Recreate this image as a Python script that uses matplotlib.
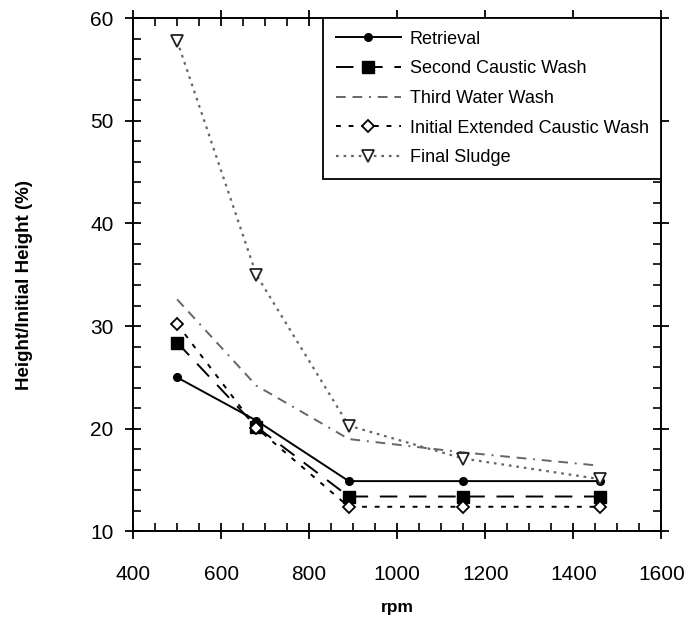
import matplotlib
matplotlib.use('Agg')
import matplotlib.pyplot as plt
from matplotlib.ticker import MultipleLocator

plt.rcParams['font.family'] = ['Liberation Sans', 'DejaVu Sans']

# rpm values and height ratios (%)
rpm = [500, 680, 890, 1150, 1460]
retrieval = [25.0, 20.8, 14.9, 14.9, 14.9]
second_caustic = [28.4, 20.2, 13.4, 13.4, 13.4]
third_water = [32.6, 24.2, 19.0, 17.7, 16.4]
initial_ext = [30.2, 20.1, 12.4, 12.4, 12.4]
final_sludge = [57.8, 35.0, 20.3, 17.1, 15.1]

fig = plt.figure(figsize=(6.86, 6.23), dpi=100)
ax = fig.add_axes([0.194, 0.147, 0.770, 0.824])

ax.plot(rpm, retrieval, color='black', lw=1.4, marker='o', ms=5.5,
        label='Retrieval')
ax.plot(rpm, second_caustic, color='black', lw=1.4, dashes=[9, 6],
        marker='s', ms=8, label='Second Caustic Wash')
ax.plot(rpm, third_water, color='#666666', lw=1.4, dashes=[5, 3.5, 5, 3.5, 1, 3.5],
        label='Third Water Wash')
ax.plot(rpm, initial_ext, color='black', lw=1.4, dashes=[2.5, 4],
        marker='D', ms=6, mfc='white', mec='black', mew=1.3,
        label='Initial Extended Caustic Wash')
ax.plot(rpm, final_sludge, color='#666666', lw=1.6, dashes=[1.2, 2.2],
        marker='v', ms=9, mfc='white', mec='#222222', mew=1.3,
        label='Final Sludge')

ax.set_xlim(400, 1600)
ax.set_ylim(10, 60)
ax.xaxis.set_major_locator(MultipleLocator(200))
ax.xaxis.set_minor_locator(MultipleLocator(50))
ax.yaxis.set_major_locator(MultipleLocator(10))
ax.yaxis.set_minor_locator(MultipleLocator(2))
ax.tick_params(which='major', direction='inout', length=12, width=1.3,
               top=True, right=True, labelsize=15)
ax.tick_params(axis='x', which='major', pad=18)
ax.tick_params(axis='y', which='major', pad=8)
ax.tick_params(which='minor', direction='in', length=6, width=1.2,
               top=True, right=True)
for s in ax.spines.values():
    s.set_linewidth(1.4)

ax.set_xlabel('rpm', fontsize=12.5, fontweight='bold', labelpad=12)
ax.set_ylabel('Height/Initial Height (%)', fontsize=13.5, fontweight='bold')
ax.yaxis.set_label_coords(-0.19, 0.48)

leg = ax.legend(loc='upper right', bbox_to_anchor=(1.0, 1.0), borderaxespad=0,
                fontsize=13, handlelength=3.6, handletextpad=0.5,
                labelspacing=0.7, borderpad=0.7, fancybox=False)
leg.get_frame().set_edgecolor('black')
leg.get_frame().set_linewidth(1.3)
leg.get_frame().set_alpha(1)

fig.savefig('out.png', dpi=100)
